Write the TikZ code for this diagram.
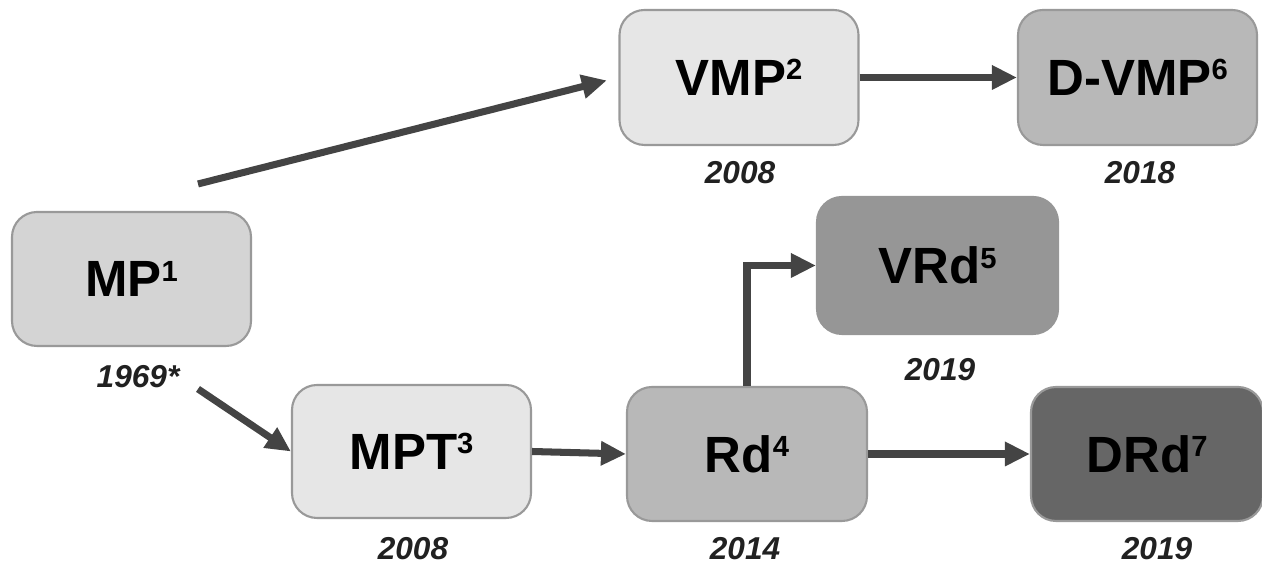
\documentclass[tikz,border=0pt]{standalone}
\usepackage{fontspec}
\setmainfont{Liberation Sans}
\usepackage{tikz}
\usetikzlibrary{arrows.meta}

\definecolor{boxline}{HTML}{999999}
\definecolor{arrowgray}{HTML}{444444}
\definecolor{lev0}{HTML}{E6E6E6}
\definecolor{lev1}{HTML}{D4D4D4}
\definecolor{lev2}{HTML}{B8B8B8}
\definecolor{lev3}{HTML}{969696}
\definecolor{lev4}{HTML}{666666}

\newcommand{\refno}[1]{\raisebox{4.4pt}{\fontsize{8.3}{9}\selectfont #1}}

\begin{document}
\begin{tikzpicture}

\tikzstyle{every node} = [inner sep=0pt]
\tikzstyle{method} = [rectangle, rounded corners=0.25cm, draw=boxline, line width=0.6pt,
  minimum width=2.39cm, minimum height=1.34cm,
  font=\fontsize{14.5}{17}\selectfont\bfseries]
\tikzstyle{year} = [text=black!87, font=\fontsize{9}{10}\selectfont\bfseries\itshape]
\tikzstyle{arr} = [draw=arrowgray, line width=2pt, -{Triangle[length=0.25cm, width=0.23cm]}]

\useasboundingbox (0,0) rectangle (12.62,5.64);

\node[method, fill=lev1] (mp) at (1.315,2.85) {MP\refno{1}};
\node[method, fill=lev0, minimum height=1.35cm] (vmp) at (7.39,4.865) {VMP\refno{2}};
\node[method, fill=lev2, minimum height=1.35cm] (dvmp) at (11.375,4.865) {D-VMP\refno{6}};
\node[method, fill=lev3, draw=lev3, minimum width=2.41cm, minimum height=1.37cm] (vrd) at (9.375,2.985) {VRd\refno{5}};
\node[method, fill=lev0, minimum height=1.33cm] (mpt) at (4.115,1.125) {MPT\refno{3}};
\node[method, fill=lev2, minimum width=2.40cm] (rd) at (7.47,1.10) {Rd\refno{4}};
\node[method, fill=lev4, minimum width=2.32cm] (drd) at (11.47,1.10) {DRd\refno{7}};

\node[year] (ymp) at (1.38,1.87) {1969*};
\node[year] (yvmp) at (7.40,3.91) {2008};
\node[year] (ydvmp) at (11.40,3.91) {2018};
\node[year] (yvrd) at (9.40,1.94) {2019};
\node[year] (ympt) at (4.13,0.15) {2008};
\node[year] (yrd) at (7.45,0.15) {2014};
\node[year] (ydrd) at (11.57,0.15) {2019};

\coordinate (up) at (1.98,3.80);
\coordinate (down) at (1.98,1.75);

\draw[arr, shorten >=0.12cm] (up) -- (vmp.west);
\draw[arr] (down) -- (mpt.west);
\draw[arr] (mpt.east) -- (rd.west);
\draw[arr] (rd.north) |- (vrd.west);
\draw[arr] (vmp.east) -- (dvmp.west);
\draw[arr] (rd.east) -- (drd.west);

\end{tikzpicture}
\end{document}
